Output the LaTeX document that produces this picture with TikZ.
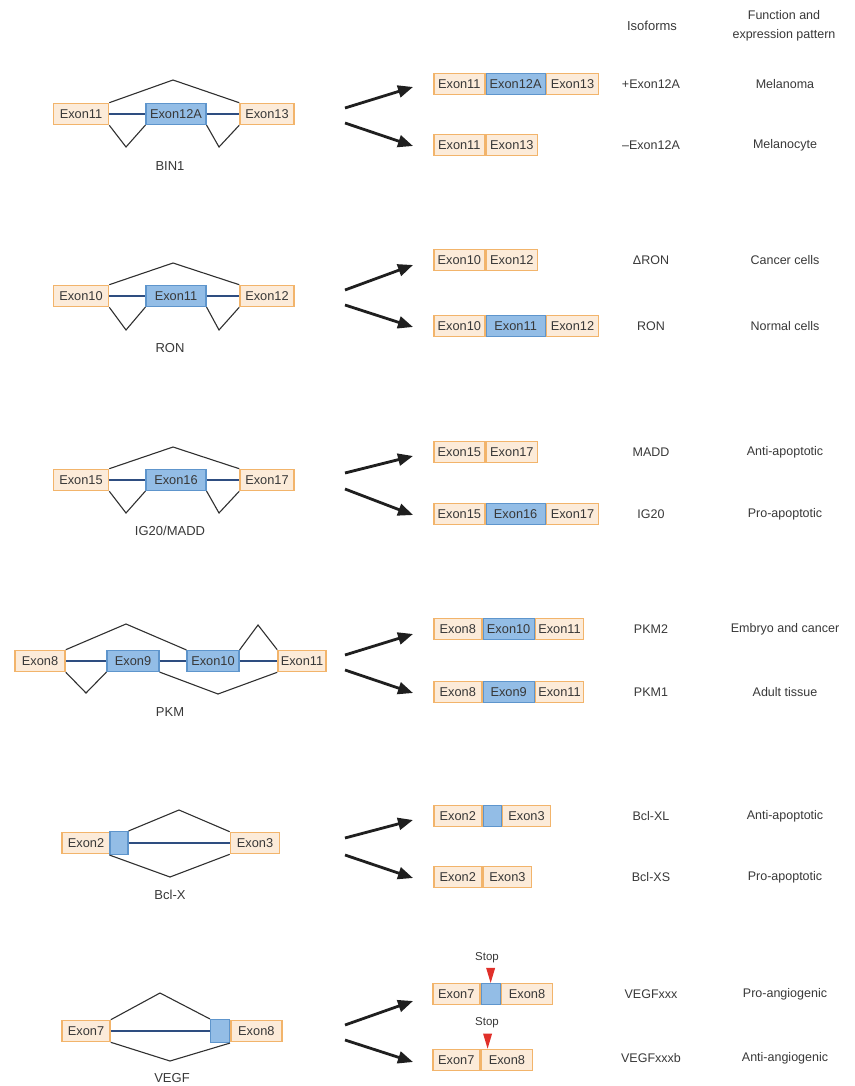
\documentclass[tikz,border=0pt]{standalone}
\usepackage{fontspec}
\setmainfont{Liberation Sans}
\usetikzlibrary{arrows.meta}
\definecolor{peach}{HTML}{FCEBD9}
\definecolor{orangeb}{HTML}{F2B46B}
\definecolor{bluef}{HTML}{93BDE6}
\definecolor{blueb}{HTML}{5E95CC}
\definecolor{navy}{HTML}{2E4D80}
\definecolor{txt}{HTML}{383838}
\definecolor{introncol}{HTML}{303030}
\definecolor{stopred}{HTML}{E0302A}
\begin{document}
\begin{tikzpicture}[x=1pt,y=-1pt,font=\fontsize{12.5}{14}\selectfont,
 ex/.style={draw=orangeb,fill=peach,line width=1.6pt,minimum height=21pt,inner sep=0pt,text=txt,font=\fontsize{12.8}{14}\selectfont},
 bx/.style={draw=blueb,fill=bluef,line width=1.1pt,minimum height=21pt,inner sep=0pt,text=txt,font=\fontsize{12.8}{14}\selectfont},
 intron/.style={draw=introncol,line width=1.1pt,line join=miter},
 exline/.style={draw=navy,line width=2.6pt},
 bigarrow/.style={-{Triangle[length=15pt,width=12pt]},line width=2.8pt,draw=black!88},
 lbl/.style={text=txt,inner sep=0pt},
 gl/.style={text=txt,inner sep=0pt,font=\fontsize{13}{14}\selectfont},
 hd/.style={text=txt,inner sep=0pt,align=center,font=\fontsize{12.5}{19}\selectfont}]
\useasboundingbox (0,0) rectangle (854,1086);

% headers
\node[hd,font=\fontsize{13}{19}\selectfont] (h1) at (652,26) {Isoforms};
\node[hd] (h2) at (784,26) {Function and\\expression pattern};

% ================= BIN1 =================
\node[ex,minimum width=55] (a1) at (81,114) {Exon11};
\node[bx,minimum width=60] (a2) at (176,114) {Exon12A};
\node[ex,minimum width=54] (a3) at (267,114) {Exon13};
\draw[exline] (a1.east) -- (a2.west) (a2.east) -- (a3.west);
\coordinate (a1t) at (173,80);
\coordinate (a1l) at (126,147);
\coordinate (a1r) at (219,147);
\draw[intron] (a1.north east) -- (a1t) -- (a3.north west);
\draw[intron] (a1.south east) -- (a1l) -- (a2.south west);
\draw[intron] (a2.south east) -- (a1r) -- (a3.south west);
\node[gl] (a1n) at (170,166) {BIN1};
\coordinate (a7) at (345,108); \coordinate (a8) at (413,87);
\coordinate (a9) at (345,123); \coordinate (a10) at (413,146);
\draw[bigarrow] (a7) -- (a8);
\draw[bigarrow] (a9) -- (a10);
\node[ex,minimum width=51,anchor=west] (a4) at (433,84) {Exon11};
\node[bx,minimum width=59,anchor=west] (a5) at (a4.east) {Exon12A};
\node[ex,minimum width=52,anchor=west] (a6) at (a5.east) {Exon13};
\node[ex,minimum width=51,anchor=west] (a11) at (433,145) {Exon11};
\node[ex,minimum width=51,anchor=west] (a12) at (a11.east) {Exon13};
\node[lbl] (a13) at (651,84) {+Exon12A};
\node[lbl] (a14) at (785,84) {Melanoma};
\node[lbl] (a15) at (651,145) {–Exon12A};
\node[lbl] (a16) at (785,145) {Melanocyte};

% ================= RON =================
\node[ex,minimum width=55] (b1) at (81,296) {Exon10};
\node[bx,minimum width=60] (b2) at (176,296) {Exon11};
\node[ex,minimum width=54] (b3) at (267,296) {Exon12};
\draw[exline] (b1.east) -- (b2.west) (b2.east) -- (b3.west);
\coordinate (b1t) at (173,263);
\coordinate (b1l) at (126,330);
\coordinate (b1r) at (219,330);
\draw[intron] (b1.north east) -- (b1t) -- (b3.north west);
\draw[intron] (b1.south east) -- (b1l) -- (b2.south west);
\draw[intron] (b2.south east) -- (b1r) -- (b3.south west);
\node[gl] (b1n) at (170,348) {RON};
\coordinate (b7) at (345,290); \coordinate (b8) at (413,265);
\coordinate (b9) at (345,305); \coordinate (b10) at (413,327);
\draw[bigarrow] (b7) -- (b8);
\draw[bigarrow] (b9) -- (b10);
\node[ex,minimum width=51,anchor=west] (b4) at (433,260) {Exon10};
\node[ex,minimum width=51,anchor=west] (b5) at (b4.east) {Exon12};
\node[ex,minimum width=51,anchor=west] (b11) at (433,326) {Exon10};
\node[bx,minimum width=59,anchor=west] (b12) at (b11.east) {Exon11};
\node[ex,minimum width=52,anchor=west] (b6) at (b12.east) {Exon12};
\node[lbl] (b13) at (651,260) {ΔRON};
\node[lbl] (b14) at (785,260) {Cancer cells};
\node[lbl] (b15) at (651,326) {RON};
\node[lbl] (b16) at (785,326) {Normal cells};

% ================= IG20/MADD =================
\node[ex,minimum width=55] (c1) at (81,480) {Exon15};
\node[bx,minimum width=60] (c2) at (176,480) {Exon16};
\node[ex,minimum width=54] (c3) at (267,480) {Exon17};
\draw[exline] (c1.east) -- (c2.west) (c2.east) -- (c3.west);
\coordinate (c1t) at (173,447);
\coordinate (c1l) at (126,513);
\coordinate (c1r) at (219,513);
\draw[intron] (c1.north east) -- (c1t) -- (c3.north west);
\draw[intron] (c1.south east) -- (c1l) -- (c2.south west);
\draw[intron] (c2.south east) -- (c1r) -- (c3.south west);
\node[gl] (c1n) at (170,531) {IG20/MADD};
\coordinate (c7) at (345,473); \coordinate (c8) at (413,456);
\coordinate (c9) at (345,489); \coordinate (c10) at (413,515);
\draw[bigarrow] (c7) -- (c8);
\draw[bigarrow] (c9) -- (c10);
\node[ex,minimum width=51,anchor=west] (c4) at (433,452) {Exon15};
\node[ex,minimum width=51,anchor=west] (c5) at (c4.east) {Exon17};
\node[ex,minimum width=51,anchor=west] (c11) at (433,514) {Exon15};
\node[bx,minimum width=59,anchor=west] (c12) at (c11.east) {Exon16};
\node[ex,minimum width=52,anchor=west] (c6) at (c12.east) {Exon17};
\node[lbl] (c13) at (651,452) {MADD};
\node[lbl] (c14) at (785,452) {Anti-apoptotic};
\node[lbl] (c15) at (651,514) {IG20};
\node[lbl] (c16) at (785,514) {Pro-apoptotic};

% ================= PKM =================
\node[ex,minimum width=50] (d1) at (40,661) {Exon8};
\node[bx,minimum width=52] (d2) at (133,661) {Exon9};
\node[bx,minimum width=52] (d3) at (213,661) {Exon10};
\node[ex,minimum width=48] (d4) at (302,661) {Exon11};
\draw[exline] (d1.east) -- (d2.west) (d2.east) -- (d3.west) (d3.east) -- (d4.west);
\coordinate (d1t) at (126,624);
\coordinate (d2t) at (258,625);
\coordinate (d1l) at (86,693);
\coordinate (d1r) at (218,694);
\draw[intron] (d1.north east) -- (d1t) -- (d3.north west);
\draw[intron] (d3.north east) -- (d2t) -- (d4.north west);
\draw[intron] (d1.south east) -- (d1l) -- (d2.south west);
\draw[intron] (d2.south east) -- (d1r) -- (d4.south west);
\node[gl] (d1n) at (170,712) {PKM};
\coordinate (d7) at (345,655); \coordinate (d8) at (413,634);
\coordinate (d9) at (345,670); \coordinate (d10) at (413,693);
\draw[bigarrow] (d7) -- (d8);
\draw[bigarrow] (d9) -- (d10);
\node[ex,minimum width=48,anchor=west] (d5) at (433,629) {Exon8};
\node[bx,minimum width=51,anchor=west] (d6) at (d5.east) {Exon10};
\node[ex,minimum width=48,anchor=west] (d11) at (d6.east) {Exon11};
\node[ex,minimum width=48,anchor=west] (d12) at (433,692) {Exon8};
\node[bx,minimum width=51,anchor=west] (d13) at (d12.east) {Exon9};
\node[ex,minimum width=48,anchor=west] (d14) at (d13.east) {Exon11};
\node[lbl] (d15) at (651,629) {PKM2};
\node[lbl] (d16) at (785,629) {Embryo and cancer};
\node[lbl] (d17) at (651,692) {PKM1};
\node[lbl] (d18) at (785,692) {Adult tissue};

% ================= Bcl-X =================
\node[ex,minimum width=48] (e1) at (86,843) {Exon2};
\node[bx,minimum width=18,minimum height=23pt] (e2) at (119,843) {};
\node[ex,minimum width=49] (e3) at (255,843) {Exon3};
\draw[exline] (e2.east) -- (e3.west);
\coordinate (e1t) at (179,810);
\coordinate (e1b) at (170,877);
\draw[intron] (e2.north east) -- (e1t) -- (e3.north west);
\draw[intron] (e2.south west) -- (e1b) -- (e3.south west);
\node[gl] (e1n) at (170,895) {Bcl-X};
\coordinate (e7) at (345,838); \coordinate (e8) at (413,820);
\coordinate (e9) at (345,855); \coordinate (e10) at (413,878);
\draw[bigarrow] (e7) -- (e8);
\draw[bigarrow] (e9) -- (e10);
\node[ex,minimum width=48,anchor=west] (e4) at (433,816) {Exon2};
\node[bx,minimum width=18,anchor=west] (e5) at (e4.east) {};
\node[ex,minimum width=48,anchor=west] (e6) at (e5.east) {Exon3};
\node[ex,minimum width=48,anchor=west] (e11) at (433,877) {Exon2};
\node[ex,minimum width=48,anchor=west] (e12) at (e11.east) {Exon3};
\node[lbl] (e13) at (651,816) {Bcl-XL};
\node[lbl] (e14) at (785,816) {Anti-apoptotic};
\node[lbl] (e15) at (651,877) {Bcl-XS};
\node[lbl] (e16) at (785,877) {Pro-apoptotic};

% ================= VEGF =================
\node[ex,minimum width=48] (f1) at (86,1031) {Exon7};
\node[bx,minimum width=19,minimum height=23pt] (f2) at (220,1031) {};
\node[ex,minimum width=51,anchor=west] (f3) at (f2.east) {Exon8};
\draw[exline] (f1.east) -- (f2.west);
\coordinate (f1t) at (160,993);
\coordinate (f1b) at (170,1061);
\draw[intron] (f1.north east) -- (f1t) -- (f2.north west);
\draw[intron] (f1.south east) -- (f1b) -- (f2.south east);
\node[gl] (f1n) at (172,1078) {VEGF};
\coordinate (f7) at (345,1025); \coordinate (f8) at (413,1001);
\coordinate (f9) at (345,1040); \coordinate (f10) at (413,1062);
\draw[bigarrow] (f7) -- (f8);
\draw[bigarrow] (f9) -- (f10);
\node[ex,minimum width=47,anchor=west] (f4) at (432,994) {Exon7};
\node[bx,minimum width=19,anchor=west] (f5) at (f4.east) {};
\node[ex,minimum width=51,anchor=west] (f6) at (f5.east) {Exon8};
\node[ex,minimum width=47,anchor=west] (f11) at (432,1060) {Exon7};
\node[ex,minimum width=51,anchor=west] (f12) at (f11.east) {Exon8};
\coordinate (s1) at ([xshift=0pt]f5.north);
\coordinate (s2) at ([xshift=7pt]f12.north west);
\fill[stopred] (s1) -- ++(-4.5,-15) -- ++(9,0) -- cycle;
\fill[stopred] (s2) -- ++(-4.5,-15) -- ++(9,0) -- cycle;
\node[lbl,font=\fontsize{11.5}{13}\selectfont] (f17) at (487,958) {Stop};
\node[lbl,font=\fontsize{11.5}{13}\selectfont] (f18) at (487,1023) {Stop};
\node[lbl] (f13) at (651,994) {VEGFxxx};
\node[lbl] (f14) at (785,994) {Pro-angiogenic};
\node[lbl] (f15) at (651,1058) {VEGFxxxb};
\node[lbl] (f16) at (785,1058) {Anti-angiogenic};
\end{tikzpicture}
\end{document}
